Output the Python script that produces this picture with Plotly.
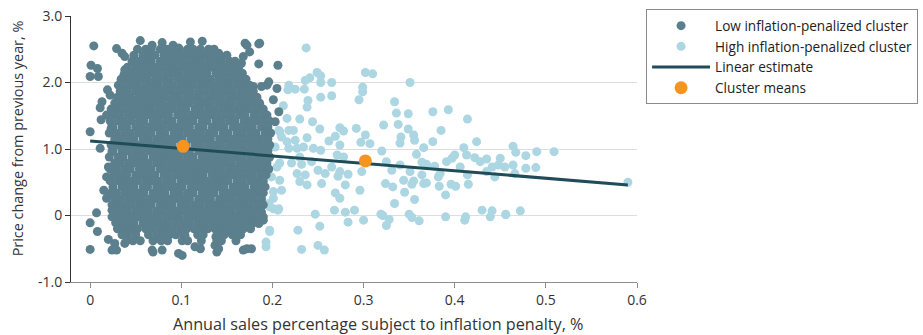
import plotly.graph_objects as go

# ---------------- data ----------------
# Low inflation-penalized cluster: dense core written as rows (y level, x values)
low_row_y = [2.50, 2.41, 2.32, 2.23, 2.14, 2.05, 1.96, 1.87, 1.78, 1.69, 1.60,
             1.51, 1.42, 1.33, 1.24, 1.15, 1.06, 0.97, 0.88, 0.79, 0.70, 0.61,
             0.52, 0.43, 0.34, 0.25, 0.16, 0.07, -0.02, -0.11, -0.20, -0.29, -0.38]
low_row_x = [
    [0.052, 0.061, 0.067, 0.077, 0.084, 0.090, 0.098, 0.107, 0.113, 0.121, 0.130, 0.136],
    [0.048, 0.058, 0.064, 0.071, 0.081, 0.087, 0.094, 0.103, 0.110, 0.117, 0.126, 0.133, 0.142],
    [0.046, 0.053, 0.061, 0.067, 0.077, 0.083, 0.092, 0.098, 0.106, 0.115, 0.121, 0.130, 0.137, 0.144, 0.153, 0.159],
    [0.041, 0.050, 0.056, 0.065, 0.072, 0.079, 0.088, 0.094, 0.103, 0.110, 0.117, 0.126, 0.133, 0.140, 0.149, 0.156, 0.163],
    [0.038, 0.045, 0.054, 0.060, 0.069, 0.075, 0.084, 0.091, 0.098, 0.107, 0.113, 0.122, 0.128, 0.138, 0.145, 0.151, 0.160, 0.167],
    [0.034, 0.042, 0.049, 0.058, 0.063, 0.072, 0.081, 0.087, 0.096, 0.102, 0.111, 0.117, 0.126, 0.132, 0.141, 0.148, 0.157, 0.163, 0.171],
    [0.031, 0.037, 0.046, 0.052, 0.061, 0.068, 0.075, 0.084, 0.090, 0.099, 0.107, 0.113, 0.122, 0.129, 0.136, 0.145, 0.152, 0.161, 0.167, 0.175],
    [0.033, 0.041, 0.050, 0.057, 0.065, 0.071, 0.080, 0.088, 0.094, 0.103, 0.110, 0.119, 0.125, 0.134, 0.140, 0.149, 0.156, 0.165, 0.171, 0.179],
    [0.030, 0.038, 0.044, 0.053, 0.060, 0.069, 0.076, 0.082, 0.091, 0.098, 0.107, 0.114, 0.121, 0.130, 0.137, 0.144, 0.153, 0.160, 0.168, 0.175, 0.183],
    [0.027, 0.035, 0.042, 0.049, 0.058, 0.065, 0.072, 0.079, 0.088, 0.095, 0.103, 0.109, 0.118, 0.126, 0.132, 0.141, 0.149, 0.155, 0.164, 0.172, 0.179, 0.186],
    [0.023, 0.031, 0.037, 0.046, 0.053, 0.061, 0.067, 0.076, 0.084, 0.090, 0.099, 0.105, 0.115, 0.121, 0.130, 0.136, 0.145, 0.153, 0.159, 0.168, 0.174, 0.183, 0.190],
    [0.026, 0.033, 0.042, 0.048, 0.057, 0.065, 0.071, 0.080, 0.086, 0.096, 0.102, 0.111, 0.117, 0.126, 0.133, 0.140, 0.149, 0.155, 0.164, 0.170, 0.180, 0.186, 0.194],
    [0.022, 0.031, 0.036, 0.045, 0.054, 0.059, 0.069, 0.075, 0.084, 0.090, 0.100, 0.106, 0.113, 0.123, 0.128, 0.138, 0.144, 0.153, 0.159, 0.169, 0.175, 0.182, 0.191, 0.197],
    [0.025, 0.035, 0.040, 0.050, 0.056, 0.065, 0.072, 0.079, 0.088, 0.094, 0.103, 0.109, 0.119, 0.124, 0.134, 0.140, 0.147, 0.157, 0.163, 0.172, 0.178, 0.188, 0.195],
    [0.021, 0.029, 0.038, 0.044, 0.053, 0.061, 0.067, 0.077, 0.082, 0.092, 0.098, 0.107, 0.115, 0.121, 0.130, 0.136, 0.146, 0.151, 0.161, 0.167, 0.176, 0.182, 0.192, 0.198],
    [0.027, 0.033, 0.042, 0.048, 0.058, 0.064, 0.073, 0.079, 0.088, 0.096, 0.101, 0.111, 0.117, 0.126, 0.132, 0.142, 0.148, 0.157, 0.163, 0.172, 0.179, 0.186, 0.195],
    [0.023, 0.030, 0.038, 0.046, 0.052, 0.061, 0.069, 0.075, 0.084, 0.090, 0.100, 0.105, 0.115, 0.121, 0.130, 0.137, 0.144, 0.153, 0.160, 0.167, 0.176, 0.182, 0.191, 0.197],
    [0.025, 0.035, 0.041, 0.050, 0.056, 0.065, 0.071, 0.080, 0.087, 0.094, 0.103, 0.109, 0.119, 0.125, 0.133, 0.142, 0.148, 0.157, 0.163, 0.171, 0.180, 0.186, 0.195],
    [0.021, 0.031, 0.036, 0.046, 0.053, 0.059, 0.069, 0.075, 0.083, 0.092, 0.098, 0.107, 0.113, 0.123, 0.129, 0.138, 0.144, 0.152, 0.161, 0.167, 0.176, 0.182, 0.190, 0.197],
    [0.027, 0.033, 0.042, 0.049, 0.057, 0.064, 0.073, 0.079, 0.088, 0.094, 0.102, 0.111, 0.117, 0.126, 0.133, 0.140, 0.149, 0.155, 0.164, 0.170, 0.179, 0.187, 0.194],
    [0.022, 0.029, 0.038, 0.044, 0.054, 0.060, 0.067, 0.077, 0.083, 0.091, 0.099, 0.106, 0.115, 0.121, 0.129, 0.138, 0.144, 0.153, 0.159, 0.168, 0.175, 0.183, 0.191, 0.196],
    [0.026, 0.034, 0.040, 0.050, 0.057, 0.065, 0.071, 0.081, 0.086, 0.095, 0.103, 0.110, 0.118, 0.124, 0.134, 0.140, 0.149, 0.156, 0.163, 0.172, 0.178, 0.187, 0.193],
    [0.022, 0.031, 0.037, 0.045, 0.052, 0.061, 0.068, 0.075, 0.084, 0.090, 0.100, 0.105, 0.114, 0.122, 0.128, 0.137, 0.145, 0.151, 0.161, 0.167, 0.176, 0.182, 0.190],
    [0.025, 0.035, 0.041, 0.048, 0.058, 0.063, 0.073, 0.079, 0.088, 0.095, 0.101, 0.111, 0.117, 0.126, 0.133, 0.141, 0.147, 0.157, 0.164, 0.170, 0.180, 0.186, 0.192],
    [0.023, 0.029, 0.038, 0.046, 0.053, 0.059, 0.069, 0.076, 0.082, 0.092, 0.098, 0.107, 0.113, 0.123, 0.129, 0.136, 0.146, 0.152, 0.160, 0.168, 0.174, 0.183, 0.190],
    [0.027, 0.033, 0.042, 0.049, 0.056, 0.065, 0.071, 0.080, 0.087, 0.094, 0.103, 0.109, 0.119, 0.125, 0.132, 0.142, 0.148, 0.156, 0.165, 0.171, 0.179, 0.188],
    [0.024, 0.030, 0.036, 0.045, 0.054, 0.060, 0.067, 0.077, 0.083, 0.090, 0.100, 0.106, 0.115, 0.121, 0.130, 0.137, 0.145, 0.151, 0.160, 0.167, 0.175, 0.184, 0.190],
    [0.026, 0.034, 0.041, 0.050, 0.057, 0.064, 0.073, 0.079, 0.088, 0.096, 0.102, 0.110, 0.118, 0.126, 0.133, 0.140, 0.149, 0.155, 0.164, 0.171, 0.180, 0.187],
    [0.024, 0.031, 0.038, 0.045, 0.053, 0.061, 0.068, 0.075, 0.084, 0.091, 0.098, 0.107, 0.113, 0.122, 0.130, 0.136, 0.145, 0.152, 0.160, 0.169, 0.175, 0.183],
    [0.028, 0.034, 0.042, 0.048, 0.058, 0.064, 0.072, 0.080, 0.086, 0.095, 0.103, 0.109, 0.118, 0.125, 0.134, 0.140, 0.148, 0.157, 0.163, 0.171, 0.179, 0.185],
    [0.030, 0.037, 0.046, 0.052, 0.061, 0.067, 0.076, 0.083, 0.090, 0.099, 0.106, 0.114, 0.122, 0.129, 0.137, 0.145, 0.152, 0.161, 0.168, 0.176],
    [0.035, 0.041, 0.050, 0.064, 0.073, 0.081, 0.087, 0.094, 0.103, 0.118, 0.124, 0.141, 0.147, 0.156, 0.165],
    [0.040, 0.047, 0.055, 0.069, 0.078, 0.085, 0.101, 0.107, 0.122, 0.139, 0.144, 0.160],
]
# Low cluster: scattered edge / outlier points
low_edge_x = [0.055, 0.068, 0.079, 0.091, 0.097, 0.110, 0.123, 0.029, 0.035, 0.038,
              0.004, 0.001, 0.008, 0.000, 0.009, 0.150, 0.141, 0.170, 0.175, 0.185,
              0.166, 0.185, 0.206, 0.186, 0.172, 0.168, 0.179, 0.188, 0.196, 0.205,
              0.201, 0.207, 0.203, 0.194, 0.038, 0.037, 0.019, 0.022, 0.013, 0.011,
              0.018, 0.012, 0.000, 0.011, 0.023, 0.024, 0.020, 0.018, 0.015, 0.018,
              0.007, 0.024, 0.000, 0.008, 0.020, 0.000, 0.027, 0.029, 0.038, 0.040,
              0.024, 0.068, 0.069, 0.079, 0.097, 0.101, 0.115, 0.121, 0.137, 0.139,
              0.168, 0.177, 0.104, 0.161, 0.166, 0.185, 0.190, 0.177, 0.166, 0.186,
              0.188, 0.190, 0.172, 0.138, 0.141]
low_edge_y = [2.63, 2.56, 2.60, 2.56, 2.52, 2.61, 2.62, 2.51, 2.44, 2.39,
              2.55, 2.26, 2.21, 2.09, 2.09, 2.41, 2.44, 2.59, 2.46, 2.58,
              2.29, 2.28, 2.26, 2.59, 2.56, 2.39, 1.94, 1.94, 2.01, 1.91,
              1.74, 1.56, 1.41, 1.96, 2.19, 2.11, 1.89, 1.81, 1.71, 1.62,
              1.51, 1.44, 1.26, 1.01, 1.31, 0.96, 0.73, 0.58, 0.38, 0.26,
              0.04, 0.08, -0.11, -0.24, -0.36, -0.51, -0.42, -0.52, -0.42, -0.27,
              -0.52, -0.52, -0.55, -0.52, -0.57, -0.60, -0.47, -0.50, -0.45, -0.55,
              -0.52, -0.50, -0.30, -0.27, -0.22, -0.12, -0.02, 0.31, 0.33, 0.18,
              0.05, -0.07, -0.50, -0.32, -0.50]

# High inflation-penalized cluster
high_x = [0.237, 0.249, 0.253, 0.241, 0.236, 0.253, 0.265, 0.218, 0.225, 0.235,
          0.217, 0.253, 0.265, 0.239, 0.238, 0.212, 0.302, 0.310, 0.299, 0.299,
          0.295, 0.216, 0.230, 0.244, 0.218, 0.223, 0.208, 0.252, 0.274, 0.278,
          0.292, 0.322, 0.302, 0.269, 0.262, 0.238, 0.225, 0.216, 0.297, 0.307,
          0.274, 0.245, 0.234, 0.227, 0.218, 0.253, 0.271, 0.278, 0.320, 0.230,
          0.221, 0.208, 0.232, 0.243, 0.265, 0.250, 0.258, 0.274, 0.283, 0.272,
          0.298, 0.227, 0.236, 0.208, 0.230, 0.238, 0.254, 0.280, 0.269, 0.296,
          0.324, 0.210, 0.201, 0.274, 0.201, 0.197, 0.206, 0.201, 0.247, 0.268,
          0.280, 0.290, 0.283, 0.300, 0.319, 0.325, 0.252, 0.228, 0.197, 0.193,
          0.193, 0.250, 0.257, 0.232, 0.207, 0.210, 0.203, 0.205, 0.199, 0.196,
          0.207, 0.197,
          0.351, 0.334, 0.336, 0.349, 0.338, 0.376, 0.393, 0.414, 0.349, 0.355,
          0.341, 0.356, 0.340, 0.385, 0.376, 0.366, 0.358, 0.325, 0.340, 0.331,
          0.364, 0.369, 0.351, 0.364, 0.378, 0.384, 0.382, 0.391, 0.400, 0.397,
          0.406, 0.410, 0.413, 0.424, 0.422, 0.428, 0.435, 0.441, 0.450, 0.448,
          0.455, 0.435, 0.444, 0.414, 0.415, 0.355, 0.353, 0.344, 0.332, 0.366,
          0.369, 0.383, 0.396, 0.401, 0.390, 0.345, 0.356, 0.334, 0.321, 0.328,
          0.350, 0.353, 0.361, 0.390, 0.411, 0.412, 0.430, 0.441, 0.439, 0.456,
          0.464, 0.467, 0.478, 0.490, 0.509, 0.464, 0.466, 0.478, 0.489, 0.590,
          0.456, 0.472]
high_y = [2.52, 2.15, 2.10, 2.07, 2.03, 2.00, 2.00, 1.96, 1.90, 1.90,
          1.89, 1.78, 1.80, 1.73, 1.63, 1.65, 2.15, 2.13, 1.93, 1.86,
          1.74, 1.46, 1.45, 1.41, 1.28, 1.28, 1.26, 1.30, 1.32, 1.27,
          1.31, 1.36, 1.21, 1.19, 1.12, 1.17, 1.13, 1.11, 1.10, 1.08,
          1.06, 1.01, 1.03, 1.01, 1.01, 0.98, 0.91, 0.88, 0.97, 0.88,
          0.79, 0.79, 0.77, 0.81, 0.73, 0.68, 0.63, 0.66, 0.62, 0.59,
          0.66, 0.63, 0.61, 0.53, 0.51, 0.46, 0.48, 0.46, 0.34, 0.38,
          0.48, 0.38, 0.36, 0.26, 0.26, 0.13, 0.08, 0.10, 0.02, 0.08,
          0.05, 0.08, -0.10, -0.07, 0.02, -0.15, -0.16, -0.22, -0.24, -0.40,
          -0.47, -0.45, -0.52, -0.51, 1.28, 1.18, 1.03, 0.73, 0.58, 0.18,
          0.10, -0.22,
          2.00, 1.71, 1.54, 1.53, 1.37, 1.56, 1.59, 1.45, 1.30, 1.21,
          1.18, 1.13, 1.09, 1.28, 1.11, 1.02, 0.92, 0.81, 0.76, 0.68,
          0.80, 0.77, 0.66, 0.61, 0.74, 0.63, 0.58, 0.81, 0.91, 0.86,
          0.73, 1.02, 0.91, 1.11, 0.87, 0.81, 0.85, 0.73, 0.86, 0.76,
          0.73, 0.66, 0.58, 0.61, 0.47, 0.52, 0.47, 0.53, 0.43, 0.48,
          0.49, 0.44, 0.47, 0.44, 0.31, 0.35, 0.24, 0.18, 0.00, -0.06,
          0.02, -0.03, -0.08, -0.02, -0.07, -0.02, 0.08, 0.07, -0.02, 0.02,
          1.04, 0.95, 0.90, 0.96, 0.96, 0.76, 0.63, 0.71, 0.72, 0.50,
          0.01, 0.07]

# Linear estimate end points and cluster means
line_x = [0.0, 0.59]
line_y = [1.12, 0.46]
mean_x = [0.102, 0.302]
mean_y = [1.04, 0.82]

x_ticks = [0, 0.1, 0.2, 0.3, 0.4, 0.5, 0.6]
x_tick_text = ["0", "0.1", "0.2", "0.3", "0.4", "0.5", "0.6"]
y_ticks = [-1, 0, 1, 2, 3]
y_tick_text = ["-1.0", "0", "1.0", "2.0", "3.0"]

# ---------------- build ----------------
low_x = list(low_edge_x)
low_y = list(low_edge_y)
for yv, xs in zip(low_row_y, low_row_x):
    low_x.extend(xs)
    low_y.extend([yv] * len(xs))

FONT = "Open Sans, Liberation Sans, Arial, sans-serif"
DARK = "#5b7f8c"
LIGHT = "#acd6e2"
LINE = "#1f4c59"
ORANGE = "#f7941d"

fig = go.Figure()
fig.add_trace(go.Scatter(
    x=high_x, y=high_y, mode="markers", name="High inflation-penalized cluster",
    marker=dict(size=9, color=LIGHT, line=dict(width=0)), legendrank=2))
fig.add_trace(go.Scatter(
    x=low_x, y=low_y, mode="markers", name="Low inflation-penalized cluster",
    marker=dict(size=9, color=DARK, line=dict(width=0)), legendrank=1))
fig.add_trace(go.Scatter(
    x=line_x, y=line_y, mode="lines", name="Linear estimate",
    line=dict(color=LINE, width=3), legendrank=3))
fig.add_trace(go.Scatter(
    x=mean_x, y=mean_y, mode="markers", name="Cluster means",
    marker=dict(size=13, color=ORANGE, line=dict(width=0)), legendrank=4))

fig.update_layout(
    width=923, height=335,
    autosize=False,
    margin=dict(l=71, r=286, t=16, b=53, autoexpand=False),
    paper_bgcolor="white", plot_bgcolor="white",
    font=dict(family=FONT, size=14, color="#333333"),
    showlegend=True,
    legend=dict(
        x=1.016, y=1.025, xanchor="left", yanchor="top",
        bordercolor="#8a8a8a", borderwidth=1, bgcolor="white",
        font=dict(family=FONT, size=13.6, color="#222222"),
        tracegroupgap=0, itemwidth=58,
    ),
    xaxis=dict(
        range=[-0.021, 0.6], tickvals=x_ticks, ticktext=x_tick_text,
        showgrid=False, zeroline=False, showline=True, linecolor="#8c8c8c", linewidth=1,
        ticks="outside", ticklen=5, tickcolor="#8c8c8c", automargin=False,
        tickfont=dict(family=FONT, size=14, color="#333333"),
    ),
    yaxis=dict(
        range=[-1, 3], tickvals=y_ticks, ticktext=y_tick_text,
        showgrid=True, gridcolor="#dddddd", gridwidth=1, zeroline=False,
        showline=True, linecolor="#333333", linewidth=1, automargin=False,
        ticks="outside", ticklen=5, tickcolor="#333333",
        tickfont=dict(family=FONT, size=14, color="#333333"),
    ),
    annotations=[
        dict(text="Annual sales percentage subject to inflation penalty, %",
             xref="paper", yref="paper", x=0.5424, y=-0.158, xanchor="center", yanchor="middle",
             showarrow=False, font=dict(family=FONT, size=16.2, color="#333333")),
        dict(text="Price change from previous year, %", textangle=-90,
             xref="paper", yref="paper", x=-0.095, y=0.541, xanchor="center", yanchor="middle",
             showarrow=False, font=dict(family=FONT, size=14.4, color="#333333")),
    ],
)

fig.write_html("out.html", config={"displayModeBar": False},
               post_script="document.body.style.margin='0';document.body.style.padding='0';")
